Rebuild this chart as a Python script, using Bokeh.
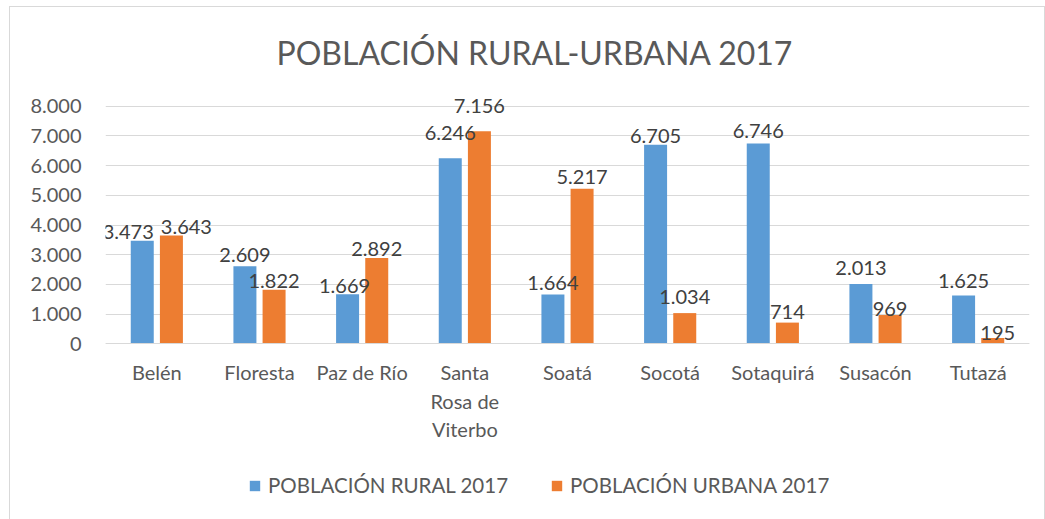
from bokeh.plotting import figure
from bokeh.models import (ColumnDataSource, FactorRange, Range1d, FixedTicker, Legend,
                          LegendItem, LabelSet)
from bokeh.core.properties import value
from bokeh.transform import dodge
from bokeh.embed import file_html
from bokeh.resources import INLINE

# ---- data ----
categories = ["Belén", "Floresta", "Paz de Río", "Santa\nRosa de\nViterbo", "Soatá",
              "Socotá", "Sotaquirá", "Susacón", "Tutazá"]
rural_2017 = [3473, 2609, 1669, 6246, 1664, 6705, 6746, 2013, 1625]
urbana_2017 = [3643, 1822, 2892, 7156, 5217, 1034, 714, 969, 195]
y_ticks = [0, 1000, 2000, 3000, 4000, 5000, 6000, 7000, 8000]
y_tick_labels = ["0", "1.000", "2.000", "3.000", "4.000", "5.000", "6.000", "7.000", "8.000"]
series_names = ["POBLACIÓN RURAL 2017", "POBLACIÓN URBANA 2017"]
title_text = "POBLACIÓN RURAL-URBANA 2017"

# ---- label placement (style, in pixels) ----
rural_dx = [-14, 0, -3, 0, 0, 0, 0, 0, 0]
rural_gap = [2, 4, 1.5, 18, 4, 2, 5, 9, 8]
urbana_dx = [15, 0, 0, 0, 0, 0, 0, 0, 5]
urbana_gap = [2, 2, 2, 18, 5, 9, 4, -1, -1.5]

BLUE = "#5B9BD5"
ORANGE = "#ED7D31"
FONT = "Lato"


def fmt(v):
    return f"{v:,}".replace(",", ".")


src = ColumnDataSource(dict(
    cat=categories,
    rural=rural_2017,
    urbana=urbana_2017,
    rural_txt=[fmt(v) for v in rural_2017],
    urbana_txt=[fmt(v) for v in urbana_2017],
    rural_dx=rural_dx,
    rural_dy=rural_gap,
    urbana_dx=urbana_dx,
    urbana_dy=urbana_gap,
))

p = figure(x_range=FactorRange(factors=categories, range_padding=0),
           y_range=Range1d(-5646, 8495),
           width=1034, height=512,
           output_backend="svg", toolbar_location=None,
           min_border_left=95, min_border_right=15,
           min_border_top=84, min_border_bottom=8)
p.outline_line_color = None
p.styles = {"margin-left": "10px", "margin-top": "7px", "outline": "1px solid #D9D9D9"}

off = 0.142
bw = 0.224
r1 = p.vbar(x=dodge("cat", -off, range=p.x_range), top="rural", width=bw, source=src,
            fill_color=BLUE, line_color=None)
r2 = p.vbar(x=dodge("cat", off, range=p.x_range), top="urbana", width=bw, source=src,
            fill_color=ORANGE, line_color=None)

for xo, col, dx, dy in [(-off, "rural", "rural_dx", "rural_dy"),
                        (off, "urbana", "urbana_dx", "urbana_dy")]:
    ls = LabelSet(x=dodge("cat", xo, range=p.x_range), y=col, text=col + "_txt",
                  x_offset=dx, y_offset=dy, source=src,
                  text_align="center", text_baseline="alphabetic",
                  text_font=value(FONT), text_font_size=value("20px"),
                  text_color="#404040")
    p.add_layout(ls)

# title
p.title.text = title_text
p.title.align = "left"
p.title.offset = 171
p.title.text_font = FONT
p.title.text_font_size = "32px"
p.title.text_font_style = "normal"
p.title.text_color = "#595959"
p.title.standoff = 39

# axes
p.xgrid.visible = False
p.ygrid.ticker = FixedTicker(ticks=y_ticks)
p.ygrid.grid_line_color = "#D9D9D9"
p.ygrid.grid_line_width = 1

p.yaxis.ticker = FixedTicker(ticks=y_ticks)
p.yaxis.major_label_overrides = {t: s for t, s in zip(y_ticks, y_tick_labels)}
p.yaxis.axis_line_color = None
p.yaxis.major_tick_line_color = None
p.yaxis.minor_tick_line_color = None
p.yaxis.major_tick_out = 0
p.yaxis.major_label_standoff = 24
p.yaxis.major_label_text_font = FONT
p.yaxis.major_label_text_font_size = "20px"
p.yaxis.major_label_text_color = "#595959"

p.xaxis.fixed_location = 0
p.xaxis.axis_line_color = "#D9D9D9"
p.xaxis.major_tick_line_color = None
p.xaxis.minor_tick_line_color = None
p.xaxis.major_tick_out = 0
p.xaxis.major_label_standoff = 16
p.xaxis.major_label_text_font = FONT
p.xaxis.major_label_text_font_size = "20px"
p.xaxis.major_label_text_color = "#595959"
p.xaxis.major_label_text_line_height = 1.2

legend = Legend(items=[LegendItem(label=series_names[0], renderers=[r1]),
                       LegendItem(label=series_names[1], renderers=[r2])],
                orientation="horizontal", location=(143, 14),
                glyph_width=13, glyph_height=13, label_standoff=7, spacing=42,
                padding=0, margin=0, border_line_color=None,
                background_fill_alpha=0,
                label_text_font=FONT, label_text_font_size="20.5px",
                label_text_color="#595959")
p.add_layout(legend, "center")

open("out.html", "w").write(file_html(p, INLINE))
